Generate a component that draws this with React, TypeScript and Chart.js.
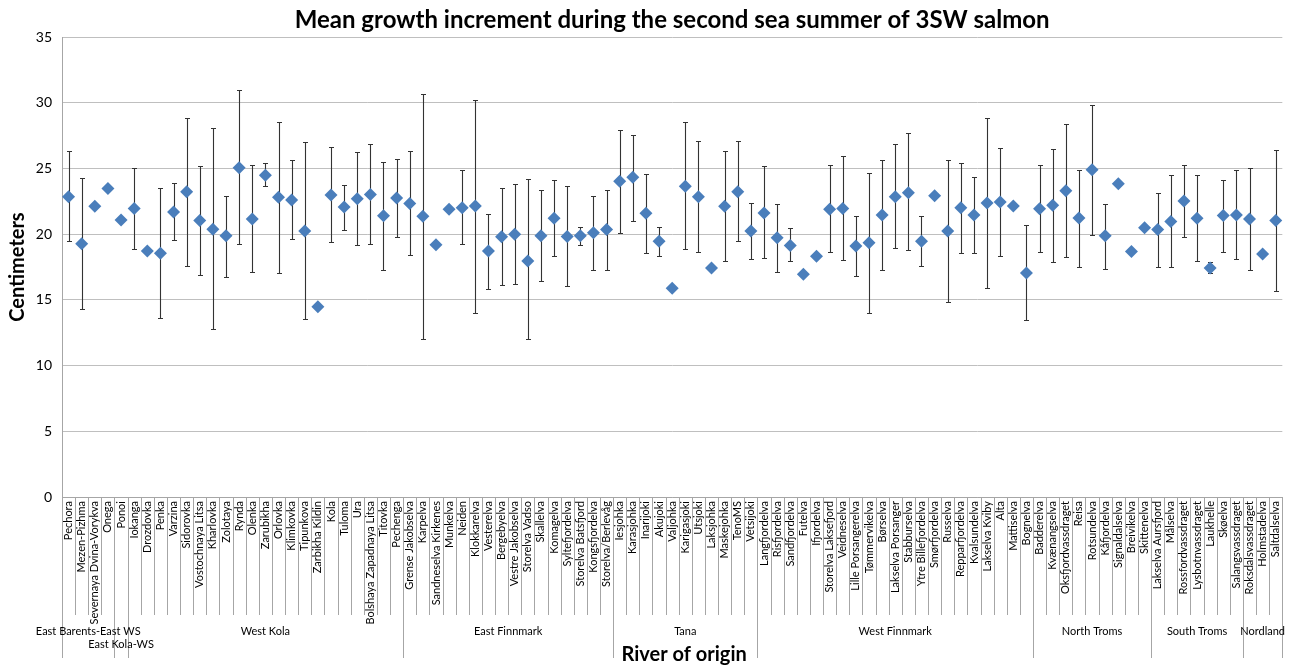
import { useEffect, useRef } from "react";
import { Chart, registerables } from "chart.js";

Chart.register(...registerables);

const categories = [
  "Pechora", "Mezen-Pizhma", "Severnaya Dvina-Vorykva", "Onega", "Ponoi",
  "Iokanga", "Drozdovka", "Penka", "Varzina", "Sidorovka", "Vostochnaya Litsa", "Kharlovka", "Zolotaya", "Rynda", "Olenka", "Zarubikha", "Orlovka", "Klimkovka", "Tipunkova", "Zarbikha Kildin", "Kola", "Tuloma", "Ura", "Bolshaya Zapadnaya Litsa", "Titovka", "Pechenga",
  "Grense Jakobselva", "Karpelva", "Sandneselva Kirkenes", "Munkelva", "Neiden", "Klokkarelva", "Vesterelva", "Bergebyelva", "Vestre Jakobselva", "Storelva Vadso", "Skallelva", "Komagelva", "Syltefjordelva", "Storelva Batsfjord", "Kongsfjordelva", "Storelva/Berlevåg",
  "Iesjohka", "Karasjohka", "Inarijoki", "Akujoki", "Valjohka", "Karigasjoki", "Utsjoki", "Laksjohka", "Maskejohka", "TenoMS", "Vetsijoki",
  "Langfjordelva", "Risfjordelva", "Sandfjordelva", "Futelva", "Ifjordelva", "Storelva Laksefjord", "Veidneselva", "Lille Porsangerelva", "Tømmervikelva", "Børselva", "Lakselva Porsanger", "Stabburselva", "Ytre Billefjordelva", "Smørfjordelva", "Russelva", "Repparfjordelva", "Kvalsundelva", "Lakselva Kviby", "Alta", "Mattiselva", "Bognelva",
  "Badderelva", "Kvænangselva", "Oksfjordvassdraget", "Reisa", "Rotsundelva", "Kåfjordelva", "Signaldalselva", "Breivikelva", "Skittenelva",
  "Lakselva Aursfjord", "Målselva", "Rossfordvassdraget", "Lysbotnvassdraget", "Laukhelle", "Skøelva", "Salangsvassdraget",
  "Roksdalsvassdraget", "Holmstadelva", "Saltdalselva",
];

const means = [
  22.85, 19.27, 22.12, 23.48, 21.08, 21.96, 18.72, 18.54, 21.69, 23.22,
  21.03, 20.38, 19.87, 25.06, 21.16, 24.48, 22.8, 22.59, 20.23, 14.48,
  22.97, 22.07, 22.7, 23.02, 21.39, 22.75, 22.34, 21.36, 19.19, 21.89,
  22.01, 22.14, 18.72, 19.8, 20.0, 17.96, 19.87, 21.21, 19.82, 19.87,
  20.1, 20.35, 24.03, 24.33, 21.59, 19.45, 15.89, 23.65, 22.85, 17.43,
  22.12, 23.22, 20.23, 21.61, 19.72, 19.14, 16.95, 18.31, 21.89, 21.96,
  19.09, 19.35, 21.46, 22.85, 23.15, 19.45, 22.92, 20.23, 22.01, 21.46,
  22.37, 22.44, 22.14, 17.05, 21.94, 22.19, 23.3, 21.23, 24.89, 19.87,
  23.83, 18.67, 20.48, 20.35, 20.96, 22.52, 21.21, 17.43, 21.41, 21.46,
  21.16, 18.49, 21.03,
];

const upper: (number | null)[] = [
  26.3, 24.26, null, null, null, 25.0, null, 23.53, 23.88, 28.82,
  25.19, 28.04, 22.92, 30.96, 25.24, 25.42, 28.54, 25.62, 26.98, null,
  26.65, 23.73, 26.25, 26.85, 25.49, 25.72, 26.3, 30.65, null, null,
  24.89, 30.23, 21.51, 23.53, 23.78, 24.16, 23.35, 24.11, 23.65, 20.55,
  22.9, 23.38, 27.91, 27.56, 24.56, 20.55, null, 28.51, 27.05, null,
  26.3, 27.05, 22.37, 25.19, 22.32, 20.43, null, null, 25.24, 25.92,
  21.36, 24.63, 25.67, 26.85, 27.66, 21.36, null, 25.67, 25.44, 24.33,
  28.84, 26.57, null, 20.73, 25.29, 26.45, 28.36, 24.89, 29.8, 22.32,
  null, null, null, 23.15, 24.51, 25.24, 24.51, 17.86, 24.11, 24.89,
  25.04, null, 26.4,
];

const lower: (number | null)[] = [
  19.45, 14.28, null, null, null, 18.84, null, 13.63, 19.57, 17.56,
  16.9, 12.77, 16.75, 19.22, 17.15, 23.68, 17.08, 19.65, 13.58, null,
  19.4, 20.35, 19.17, 19.27, 17.3, 19.82, 18.41, 12.04, null, null,
  19.22, 14.03, 15.84, 16.15, 16.22, 11.99, 16.4, 18.36, 16.05, 19.19,
  17.25, 17.3, 20.05, 21.03, 18.59, 18.36, null, 18.84, 18.61, null,
  17.93, 19.45, 18.11, 18.19, 17.13, 17.93, null, null, 18.61, 18.04,
  16.85, 14.03, 17.25, 18.97, 18.77, 17.58, null, 14.84, 18.54, 18.54,
  15.89, 18.36, null, 13.5, 18.61, 17.88, 18.24, 17.51, 19.9, 17.38,
  null, null, null, 17.51, 17.51, 19.77, 17.93, 17.03, 18.67, 18.11,
  17.25, null, 15.64,
];

const groupNames = [
  "East Barents-East WS", "East Kola-WS", "West Kola", "East Finnmark", "Tana",
  "West Finnmark", "North Troms", "South Troms", "Nordland",
];
const groupSizes = [4, 1, 21, 16, 11, 21, 9, 7, 3];
const groupRow = [0, 1, 0, 0, 0, 0, 0, 0, 0];

const titleText = "Mean growth increment during the second sea summer of 3SW salmon";
const yTitle = "Centimeters";
const xTitle = "River of origin";
const yMin = 0;
const yMax = 35;
const yStep = 5;

const FONT = "Lato, 'Open Sans', sans-serif";

export default function App() {
  const ref = useRef<HTMLCanvasElement>(null);

  useEffect(() => {
    document.body.style.margin = "0";
    const canvas = ref.current;
    if (!canvas) return;

    const errorBars = {
      id: "errorBars",
      beforeDatasetsDraw(chart: any) {
        const { ctx } = chart;
        const xs = chart.scales.x;
        const ys = chart.scales.y;
        ctx.save();
        ctx.strokeStyle = "#333333";
        ctx.lineWidth = 1.1;
        for (let i = 0; i < means.length; i++) {
          const hi = upper[i];
          const lo = lower[i];
          if (hi == null || lo == null) continue;
          const x = Math.round(xs.getPixelForValue(i)) + 0.5;
          const yH = Math.round(ys.getPixelForValue(hi)) + 0.5;
          const yL = Math.round(ys.getPixelForValue(lo)) + 0.5;
          ctx.beginPath();
          ctx.moveTo(x, yH);
          ctx.lineTo(x, yL);
          ctx.moveTo(x - 2.5, yH);
          ctx.lineTo(x + 2.5, yH);
          ctx.moveTo(x - 2.5, yL);
          ctx.lineTo(x + 2.5, yL);
          ctx.stroke();
        }
        ctx.restore();
      },
    };

    const decorations = {
      id: "decorations",
      afterDraw(chart: any) {
        const { ctx, chartArea } = chart;
        const xs = chart.scales.x;
        const n = categories.length;
        const w = (chartArea.right - chartArea.left) / n;
        const base = chartArea.bottom;
        ctx.save();
        // title
        ctx.fillStyle = "#000";
        ctx.textAlign = "center";
        ctx.textBaseline = "middle";
        ctx.font = `bold 24px ${FONT}`;
        ctx.fillText(titleText, (chartArea.left + chartArea.right) / 2, 20);

        // category separators
        ctx.strokeStyle = "#a6a6a6";
        ctx.lineWidth = 1;
        const groupStarts = new Set<number>();
        let acc = 0;
        groupStarts.add(0);
        for (const s of groupSizes) {
          acc += s;
          groupStarts.add(acc);
        }
        for (let k = 0; k <= n; k++) {
          const x = Math.round(xs.getPixelForValue(k) - w / 2) + 0.5;
          const end = groupStarts.has(k) ? base + 161 : base + 118;
          ctx.beginPath();
          ctx.moveTo(x, base);
          ctx.lineTo(x, end);
          ctx.stroke();
        }

        // group labels
        ctx.font = `11px ${FONT}`;
        ctx.fillStyle = "#000";
        let start = 0;
        groupNames.forEach((g, gi) => {
          const size = groupSizes[gi];
          const x0 = xs.getPixelForValue(start) - w / 2;
          const x1 = xs.getPixelForValue(start + size - 1) + w / 2;
          const y = base + 134 + groupRow[gi] * 13;
          ctx.fillText(g, (x0 + x1) / 2, y);
          start += size;
        });

        // x title
        ctx.font = `bold 20px ${FONT}`;
        ctx.fillText(xTitle, (chartArea.left + chartArea.right) / 2 + 12, 655);
        ctx.restore();
      },
    };

    const chart = new Chart(canvas, {
      type: "line",
      data: {
        labels: categories,
        datasets: [
          {
            data: means,
            showLine: false,
            pointStyle: "rectRot",
            pointRadius: 6.5,
            pointHoverRadius: 6.5,
            pointBackgroundColor: "#4a7ebb",
            pointBorderColor: "#4a7ebb",
            pointBorderWidth: 0,
          },
        ],
      },
      options: {
        responsive: false,
        animation: false,
        events: [],
        layout: { padding: { top: 37, right: 4, left: 0, bottom: 0 } },
        plugins: {
          legend: { display: false },
          tooltip: { enabled: false },
          title: { display: false },
        },
        scales: {
          x: {
            type: "category",
            offset: true,
            grid: { display: true, drawOnChartArea: false, drawTicks: false, color: "rgba(0,0,0,0)" },
            border: { display: true, color: "#a6a6a6" },
            ticks: {
              autoSkip: false,
              minRotation: 90,
              maxRotation: 90,
              padding: 4,
              color: "#000",
              font: { family: FONT, size: 11 },
            },
            afterFit(s: any) {
              s.height = 169;
            },
          },
          y: {
            min: yMin,
            max: yMax,
            ticks: {
              stepSize: yStep,
              padding: 10,
              color: "#000",
              font: { family: FONT, size: 14 },
            },
            grid: { color: "#bfbfbf", drawTicks: false },
            border: { display: true, color: "#a6a6a6" },
            title: {
              display: true,
              text: yTitle,
              color: "#000",
              font: { family: FONT, size: 20, weight: "bold" },
              padding: { top: 6, bottom: 0 },
            },
            afterFit(s: any) {
              s.width = 62;
            },
          },
        },
      },
      plugins: [errorBars, decorations],
    } as any);

    return () => chart.destroy();
  }, []);

  return <canvas ref={ref} width={1293} height={666} style={{ display: "block" }} />;
}
